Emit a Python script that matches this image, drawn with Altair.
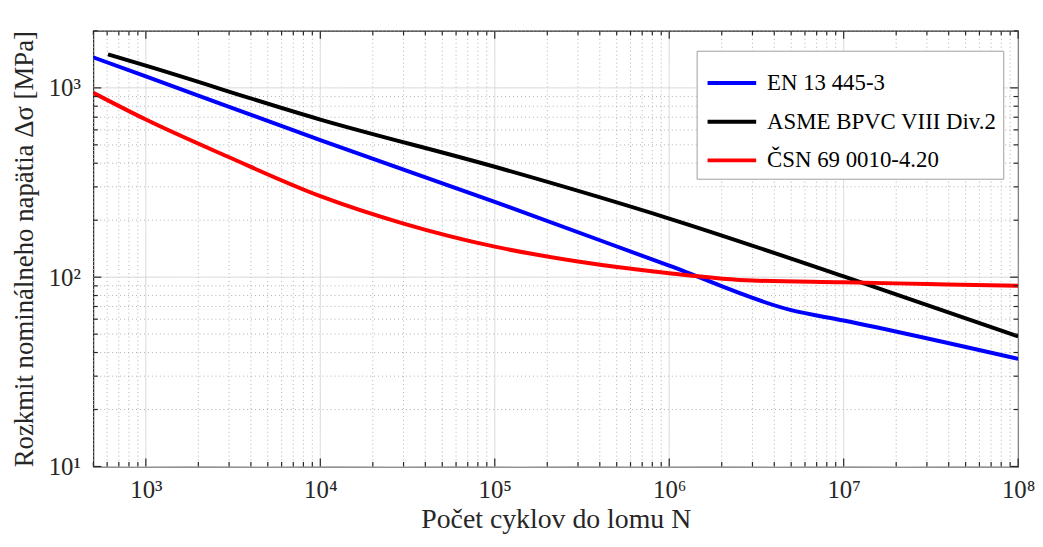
import altair as alt
import pandas as pd

# ---------------- data ----------------
series_names = ["EN 13 445-3", "ASME BPVC VIII Div.2", "ČSN 69 0010-4.20"]
series_colors = ["#0000ff", "#000000", "#ff0000"]

en_N = [500, 1e3, 1e4, 1e5, 1e6, 5e6, 1e7, 1e8]
en_S = [1449, 1150, 530, 250, 115, 67, 59, 37]

asme_N = [607, 1e3, 1e4, 1e5, 1e6, 1e7, 1e8]
asme_S = [1503, 1310, 680, 383, 204, 101, 48.7]

csn_N = [500, 1e3, 3e3, 1e4, 3e4, 1e5, 3e5, 1e6, 3e6, 1e7, 3e7, 1e8]
csn_S = [941, 680, 430, 268, 192, 145, 121, 105, 96, 94, 92, 90]

x_major = [1e3, 1e4, 1e5, 1e6, 1e7, 1e8]
x_labels = ["10³", "10⁴", "10⁵", "10⁶", "10⁷", "10⁸"]
x_minor = [k * 10 ** d for d in range(2, 8) for k in range(2, 10) if 500 <= k * 10 ** d <= 1e8]

y_major = [10, 100, 1000]
y_labels = ["10¹", "10²", "10³"]
y_minor = [k * 10 ** d for d in range(1, 4) for k in range(2, 10) if k * 10 ** d <= 2000]

x_domain = [500, 1e8]
y_domain = [10, 2000]

x_title = "Počet cyklov do lomu N"
y_title = "Rozkmit nominálneho napätia Δσ [MPa]"

# ---------------- tables ----------------
rows = []
for name, ns, ss in [(series_names[0], en_N, en_S),
                     (series_names[1], asme_N, asme_S),
                     (series_names[2], csn_N, csn_S)]:
    for n, s in zip(ns, ss):
        rows.append({"series": name, "N": n, "S": s})
df = pd.DataFrame(rows)

W, H = 932, 439
FONT = "Liberation Serif"
INK = "#262626"


def label_expr(vals, labs):
    expr = "''"
    for v, l in zip(reversed(vals), reversed(labs)):
        expr = f"datum.value == {v:g} ? '{l}' : ({expr})"
    return expr


xs = alt.Scale(type="log", domain=x_domain, nice=False)
ys = alt.Scale(type="log", domain=y_domain, nice=False)

xaxis = alt.Axis(values=x_major, labelExpr=label_expr(x_major, x_labels),
                 title=x_title, labelPadding=11, titlePadding=3, titleFontSize=28)
yaxis = alt.Axis(values=y_major, labelExpr=label_expr(y_major, y_labels),
                 title=y_title, labelPadding=13, titlePadding=10)


def X(field):
    return alt.X(field, scale=xs, axis=xaxis, title=x_title)


def Y(field):
    return alt.Y(field, scale=ys, axis=yaxis, title=y_title)


# grid
def vgrid(vals, dash, color):
    return alt.Chart(pd.DataFrame({"N": vals})).mark_rule(
        color=color, strokeWidth=1, strokeDash=dash
    ).encode(x=X("N:Q"))


def hgrid(vals, dash, color):
    return alt.Chart(pd.DataFrame({"S": vals})).mark_rule(
        color=color, strokeWidth=1, strokeDash=dash
    ).encode(y=Y("S:Q"))


grid_layers = [
    vgrid(x_minor, [1, 3], "#b0b0b0"),
    hgrid(y_minor, [1, 3], "#b0b0b0"),
    vgrid(x_major, [1, 0], "#d6d6d6"),
    hgrid(y_major, [1, 0], "#d6d6d6"),
]

lines = alt.Chart(df).mark_line(strokeWidth=4, interpolate="monotone", clip=True).encode(
    x=X("N:Q"),
    y=Y("S:Q"),
    color=alt.Color("series:N",
                    scale=alt.Scale(domain=series_names, range=series_colors),
                    legend=alt.Legend(title=None, orient="none", legendX=608, legendY=20,
                                      symbolType="stroke", symbolStrokeWidth=4,
                                      symbolSize=2400, labelFont=FONT,
                                      labelFontSize=23, labelColor="#000000",
                                      labelLimit=500, fillColor="white",
                                      strokeColor="#a0a0a0", padding=6,
                                      rowPadding=-2, symbolOffset=3, labelOffset=9)),
)


# ticks (inward, on all four sides)
def xticks(vals, length, top):
    y0 = 0 if top else H
    y1 = length if top else H - length
    return alt.Chart(pd.DataFrame({"N": vals})).mark_rule(color=INK, strokeWidth=1.2).encode(
        x=X("N:Q"), y=alt.value(y0), y2=alt.value(y1))


def yticks(vals, length, right):
    x0 = W if right else 0
    x1 = W - length if right else length
    return alt.Chart(pd.DataFrame({"S": vals})).mark_rule(color=INK, strokeWidth=1.2).encode(
        y=Y("S:Q"), x=alt.value(x0), x2=alt.value(x1))


tick_layers = [
    xticks(x_major, 8, False), xticks(x_minor, 4.5, False),
    xticks(x_major, 8, True), xticks(x_minor, 4.5, True),
    yticks(y_major, 8, False), yticks(y_minor, 4.5, False),
    yticks(y_major, 8, True), yticks(y_minor, 4.5, True),
]

chart = alt.layer(*grid_layers, lines, *tick_layers).properties(
    width=W, height=H,
    autosize=alt.AutoSizeParams(type="none"),
    padding={"left": 86, "top": 21, "right": 17, "bottom": 70},
).configure_view(
    stroke=INK, strokeWidth=1.2
).configure_axis(
    ticks=False, tickSize=0, domain=False, grid=False,
    labelFont=FONT, labelFontSize=25, labelColor=INK, labelFlush=False,
    titleFont=FONT, titleFontSize=27, titleFontWeight="normal", titleColor=INK,
).configure_legend(
    labelFont=FONT, labelFontSize=23
)

chart.save("out.html", embed_options={"renderer": "svg", "actions": False})
